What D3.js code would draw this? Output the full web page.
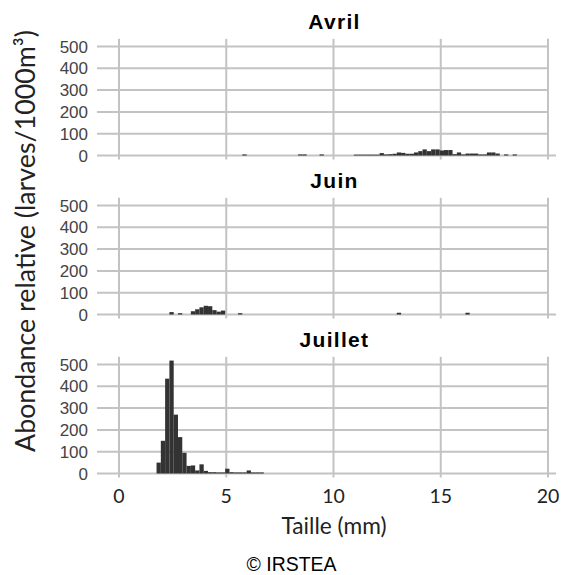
<!DOCTYPE html>
<html><head><meta charset="utf-8">
<script src="https://cdn.jsdelivr.net/npm/d3@7"></script>
<style>body{margin:0;background:#fff}svg{display:block}</style>
</head><body>
<svg id="c" width="562" height="575"></svg>
<script>
const months = ["Avril", "Juin", "Juillet"];
const binWidth = 0.2;
// bin start sizes (mm) and abundance values (larves/1000m3)
const avrilSizes  = [5.75, 8.35, 8.55, 9.35, 10.95, 11.15, 11.35, 11.55, 11.75, 11.95, 12.15, 12.35, 12.55, 12.75, 12.95, 13.15, 13.35, 13.55, 13.75, 13.95, 14.15, 14.35, 14.55, 14.75, 14.95, 15.15, 15.35, 15.55, 15.75, 15.95, 16.15, 16.35, 16.55, 16.75, 16.95, 17.15, 17.35, 17.55, 17.95, 18.35];
const avrilValues = [5, 5, 5, 5, 4, 4, 4, 4, 4, 4, 11, 5, 6, 8, 14, 12, 8, 8, 14, 20, 28, 20, 28, 28, 23, 25, 25, 6, 14, 5, 9, 9, 9, 5, 5, 14, 14, 9, 5, 5];
const juinSizes  = [2.35, 2.75, 3.35, 3.55, 3.75, 3.95, 4.15, 4.35, 4.55, 4.75, 5.55, 12.95, 16.15];
const juinValues = [11, 6, 15, 24, 33, 40, 38, 20, 13, 18, 6, 8, 8];
const juilletSizes  = [1.75, 1.95, 2.15, 2.35, 2.55, 2.75, 2.95, 3.15, 3.35, 3.55, 3.75, 3.95, 4.15, 4.35, 4.55, 4.75, 4.95, 5.15, 5.35, 5.55, 5.75, 5.95, 6.15, 6.35, 6.55];
const juilletValues = [50, 150, 435, 518, 270, 167, 95, 35, 37, 14, 42, 12, 6, 6, 5, 5, 22, 6, 5, 5, 5, 14, 5, 5, 5];
const yTicks = [0, 100, 200, 300, 400, 500];
const xTicks = [0, 5, 10, 15, 20];
const yTitle = "Abondance relative (larves/1000m³)";
const xTitle = "Taille (mm)";
const credit = "© IRSTEA";

const series = [
  {name: months[0], sizes: avrilSizes, values: avrilValues},
  {name: months[1], sizes: juinSizes, values: juinValues},
  {name: months[2], sizes: juilletSizes, values: juilletValues}
];

const svg = d3.select("#c");
const x = d3.scaleLinear().domain([0, 20]).range([119, 548]);
const grid = "#c3c3c3";
function fit(sel, size, target) {
  const L = sel.node().getComputedTextLength();
  sel.attr("font-size", size * target / L);
}

series.forEach((s, i) => {
  const off = i * 159;
  const y = d3.scaleLinear().domain([0, 500]).range([155.5 + off, 46.5 + off]);
  const g = svg.append("g");
  g.selectAll("line.h").data(yTicks).join("line")
    .attr("x1", 97).attr("x2", d => d === 0 ? 556 : 548)
    .attr("y1", d => y(d)).attr("y2", d => y(d))
    .attr("stroke", grid).attr("stroke-width", 2);
  g.selectAll("line.v").data(xTicks).join("line")
    .attr("x1", d => x(d)).attr("x2", d => x(d))
    .attr("y1", y(535)).attr("y2", y(0) + 4)
    .attr("stroke", grid).attr("stroke-width", 2);
  g.selectAll("rect").data(s.sizes.map((v, k) => ({s: v, v: s.values[k]}))).join("rect")
    .attr("x", d => x(d.s))
    .attr("width", d => x(d.s + binWidth) - x(d.s))
    .attr("y", d => y(d.v))
    .attr("height", d => y(0) - y(d.v))
    .attr("fill", "#333");
  g.selectAll("text.yt").data(yTicks).join("text")
    .attr("x", 88).attr("y", d => y(d) + 6)
    .attr("text-anchor", "end")
    .attr("font-family", "Liberation Sans, Arial, sans-serif")
    .attr("font-size", 17).attr("fill", "#444")
    .text(d => d);
  g.append("text").attr("x", 334.5).attr("y", 28.5 + off)
    .attr("text-anchor", "middle")
    .attr("font-family", "Liberation Sans, Arial, sans-serif")
    .attr("font-weight", "bold").attr("font-size", 21)
    .attr("letter-spacing", 1.3)
    .text(s.name);
});

svg.selectAll("text.xt").data(xTicks).join("text")
  .attr("x", d => x(d)).attr("y", 503)
  .attr("text-anchor", "middle")
  .attr("font-family", "Lato, sans-serif").attr("font-size", 19.5).attr("fill", "#222")
  .text(d => d);

const xt = svg.append("text").attr("x", 334).attr("y", 534)
  .attr("text-anchor", "middle")
  .attr("font-family", "Lato, sans-serif").attr("font-size", 20).attr("fill", "#222")
  .text(xTitle);
fit(xt, 20, 105);

const yt = svg.append("text")
  .attr("transform", "translate(35,241) rotate(-90)")
  .attr("text-anchor", "middle")
  .attr("font-family", "Lato, sans-serif").attr("font-size", 20).attr("fill", "#222")
  .text(yTitle);
fit(yt, 20, 422);

const ct = svg.append("text").attr("x", 291.5).attr("y", 571)
  .attr("text-anchor", "middle")
  .attr("font-family", "Liberation Sans, Arial, sans-serif").attr("font-size", 18).attr("fill", "#000")
  .text(credit);
fit(ct, 18, 90);
</script>
</body></html>
